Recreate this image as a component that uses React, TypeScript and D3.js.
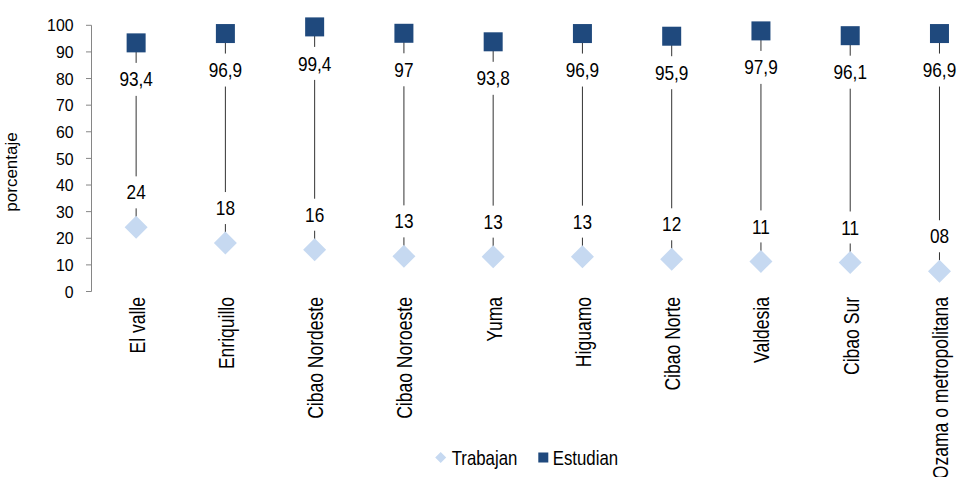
import React from "react";
import * as d3 from "d3";

const categories = [
  "El valle",
  "Enriquillo",
  "Cibao Nordeste",
  "Cibao Noroeste",
  "Yuma",
  "Higuamo",
  "Cibao Norte",
  "Valdesia",
  "Cibao Sur",
  "Ozama o metropolitana",
];
const estudian = [93.4, 96.9, 99.4, 97, 93.8, 96.9, 95.9, 97.9, 96.1, 96.9];
const trabajan = [24.1, 18.2, 15.7, 13.2, 13.1, 13.1, 12.1, 11.3, 10.9, 7.6];
const yTicks = [0, 10, 20, 30, 40, 50, 60, 70, 80, 90, 100];
const seriesNames = ["Trabajan", "Estudian"];

const W = 960;
const H = 477;
const SANS = "'Liberation Sans', Arial, sans-serif";
const DARK = "#1F497D";
const LIGHT = "#C6D9F1";
const NX = 0.82; // horizontal condensation to emulate Arial Narrow

const fmtEst = (v: number) =>
  (Number.isInteger(v) ? String(v) : v.toFixed(1)).replace(".", ",");
const fmtTrab = (v: number) => d3.format("02.0f")(v);

function NText(props: {
  x: number;
  y: number;
  rotate?: number;
  size: number;
  sx?: number;
  anchor?: "start" | "middle" | "end";
  baseline?: string;
  children: React.ReactNode;
}) {
  const { x, y, rotate = 0, size, sx = NX, anchor = "start", baseline, children } = props;
  return (
    <text
      transform={`translate(${x},${y}) rotate(${rotate}) scale(${sx},1)`}
      textAnchor={anchor}
      dominantBaseline={baseline as any}
      fontFamily={SANS}
      fontSize={size}
      fill="#000"
    >
      {children}
    </text>
  );
}

export default function App() {
  const x = d3
    .scaleBand<string>()
    .domain(categories)
    .range([91.5, 91.5 + 89.26 * categories.length])
    .padding(0);
  const y = d3.scaleLinear().domain([0, 100]).range([291.5, 25.3]);
  const cx = (c: string) => (x(c) as number) + x.bandwidth() / 2;
  const axisX = 91.5;
  const sq = 19;
  const dm = 23;

  return (
    <svg
      width={W}
      height={H}
      style={{ position: "absolute", left: 0, top: 0, background: "#fff" }}
    >
      {/* y axis */}
      <line x1={axisX} x2={axisX} y1={y(0)} y2={y(100)} stroke="#868686" strokeWidth={1} />
      {yTicks.map((t) => (
        <g key={t}>
          <line x1={axisX - 5.5} x2={axisX} y1={y(t)} y2={y(t)} stroke="#868686" strokeWidth={1} />
          <NText x={73.5} y={y(t)} size={16.5} sx={0.96} anchor="end" baseline="central">
            {t}
          </NText>
        </g>
      ))}
      <NText x={17} y={172} rotate={-90} size={17} sx={1} anchor="middle">
        porcentaje
      </NText>

      {/* drop lines */}
      {categories.map((c, i) => (
        <line
          key={"l" + c}
          x1={cx(c)}
          x2={cx(c)}
          y1={y(estudian[i])}
          y2={y(trabajan[i])}
          stroke="#333"
          strokeWidth={1}
        />
      ))}

      {/* labels with white boxes */}
      {categories.map((c, i) => {
        const ey = y(estudian[i]) + 36.5;
        const ty = y(trabajan[i]) - 35;
        return (
          <g key={"lab" + c}>
            <rect x={cx(c) - 22} y={ey - 16.5} width={44} height={33} fill="#fff" />
            <NText x={cx(c)} y={ey} size={21} anchor="middle" baseline="central">
              {fmtEst(estudian[i])}
            </NText>
            <rect x={cx(c) - 22} y={ty - 16} width={44} height={32} fill="#fff" />
            <NText x={cx(c)} y={ty} size={21} anchor="middle" baseline="central">
              {fmtTrab(trabajan[i])}
            </NText>
          </g>
        );
      })}

      {/* markers */}
      {categories.map((c, i) => (
        <g key={"m" + c}>
          <rect
            x={cx(c) - sq / 2}
            y={y(estudian[i]) - sq / 2}
            width={sq}
            height={sq}
            fill={DARK}
          />
          <path
            d={`M${cx(c)},${y(trabajan[i]) - dm / 2} L${cx(c) + dm / 2},${y(trabajan[i])} L${cx(c)},${
              y(trabajan[i]) + dm / 2
            } L${cx(c) - dm / 2},${y(trabajan[i])} Z`}
            fill={LIGHT}
          />
        </g>
      ))}

      {/* category labels */}
      {categories.map((c) => (
        <NText key={"c" + c} x={cx(c) + 8.5} y={297} rotate={-90} size={21.4} anchor="end">
          {c}
        </NText>
      ))}

      {/* legend */}
      <path d={`M440.7,452 L446.2,457.5 L440.7,463 L435.2,457.5 Z`} fill={LIGHT} />
      <NText x={451.7} y={465} size={20.5}>
        {seriesNames[0]}
      </NText>
      <rect x={538.3} y={452.5} width={10} height={10} fill={DARK} />
      <NText x={552.7} y={465} size={20.5}>
        {seriesNames[1]}
      </NText>
    </svg>
  );
}
